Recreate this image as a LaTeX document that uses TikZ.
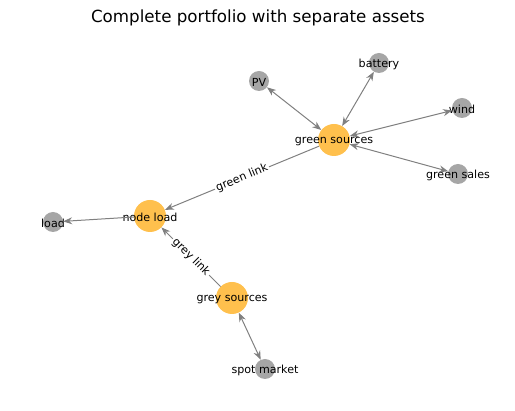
\documentclass[tikz,border=0pt]{standalone}
\usepackage{fontspec}
\setmainfont{DejaVu Sans}
\usetikzlibrary{arrows.meta,positioning}
\definecolor{hubcol}{RGB}{255,192,77}
\definecolor{assetcol}{RGB}{166,166,166}
\definecolor{edgecol}{RGB}{128,128,128}
\tikzset{
  hub/.style={circle,fill=hubcol,minimum size=32pt,inner sep=0pt},
  asset/.style={circle,fill=assetcol,minimum size=20pt,inner sep=0pt},
  nodetxt/.style={font=\fontsize{11.1}{13}\selectfont,inner sep=0pt,yshift=-1.5pt},
  link/.style={draw=edgecol,line width=1pt,-{Stealth[length=9pt,width=7pt]}},
  biglink/.style={draw=edgecol,line width=1pt,{Stealth[length=9pt,width=7pt]}-{Stealth[length=9pt,width=7pt]}},
  edgelbl/.style={font=\fontsize{11.1}{13}\selectfont,fill=white,inner sep=1.5pt,sloped,midway}
}

\begin{document}
\begin{tikzpicture}[x=1pt,y=-1pt]
        \useasboundingbox (0,0) rectangle (515,411);
        \node[font=\fontsize{16.7}{20}\selectfont] (title) at (258,18) {Complete portfolio with separate assets};
        % hubs
        \node[hub,label={[nodetxt]center:green sources}] (gs) at (334,140) {};
        \node[hub,label={[nodetxt]center:node load}] (nl) at (150,216) {};
        \node[hub,label={[nodetxt]center:grey sources}] (grs) at (232,298) {};
        % assets
        \node[asset,label={[nodetxt]center:PV}] (pv) at (259,81) {};
        \node[asset,label={[nodetxt]center:battery}] (bat) at (379,63) {};
        \node[asset,label={[nodetxt]center:wind}] (wind) at (462,108) {};
        \node[asset,label={[nodetxt]center:green sales}] (sales) at (458,174) {};
        \node[asset,label={[nodetxt]center:load}] (load) at (53,222) {};
        \node[asset,label={[nodetxt]center:spot market}] (spot) at (265,369) {};
        % connectors
        \draw[biglink] (gs) -- (pv);
        \draw[biglink] (gs) -- (bat);
        \draw[biglink] (gs) -- (wind);
        \draw[biglink] (gs) -- (sales);
        \draw[biglink] (grs) -- (spot);
        \draw[link] (nl) -- (load);
        \draw[link] (gs) -- node[edgelbl] (gl) {green link} (nl);
        \draw[link] (grs) -- node[edgelbl] (yl) {grey link} (nl);
      \end{tikzpicture}
\end{document}
